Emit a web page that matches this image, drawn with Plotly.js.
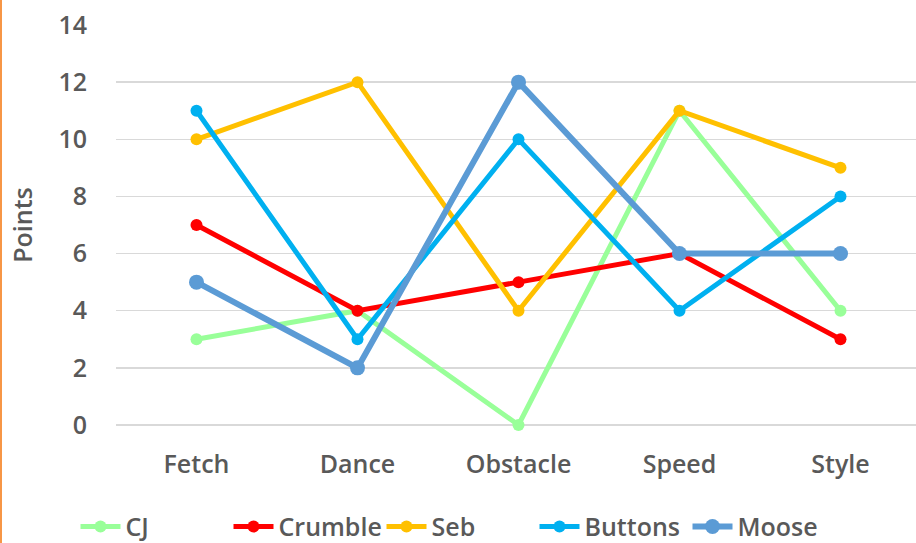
<!DOCTYPE html>
<html>
<head>
<meta charset="utf-8">
<script src="https://cdn.plot.ly/plotly-3.0.1.min.js"></script>
<style>html,body{margin:0;padding:0;background:#fff;}#chart{width:916px;height:543px;}</style>
</head>
<body>
<div id="chart"></div>
<script>
const categories = ["Fetch", "Dance", "Obstacle", "Speed", "Style"];
const seriesNames = ["CJ", "Crumble", "Seb", "Buttons", "Moose"];
const cjValues = [3, 4, 0, 11, 4];
const crumbleValues = [7, 4, 5, 6, 3];
const sebValues = [10, 12, 4, 11, 9];
const buttonsValues = [11, 3, 10, 4, 8];
const mooseValues = [5, 2, 12, 6, 6];
const yTicks = [0, 2, 4, 6, 8, 10, 12, 14];

const allValues = [cjValues, crumbleValues, sebValues, buttonsValues, mooseValues];
const colors = ["#99FF99", "#FF0000", "#FFC000", "#00B0F0", "#5B9BD5"];
const widths = [5, 5, 5, 5, 6];
const msizes = [12, 12, 12, 12, 15];

const idx = categories.map((c, i) => i);
const traces = seriesNames.map((n, k) => ({
  type: "scatter",
  mode: "lines+markers",
  name: n,
  x: idx,
  y: allValues[k],
  line: {color: colors[k], width: widths[k]},
  marker: {color: colors[k], size: msizes[k]},
  cliponaxis: false
}));

const font = "'Open Sans', 'DejaVu Sans', sans-serif";
const tf = {size: 25, color: "#595959", weight: 600, family: font};
const layout = {
  width: 916, height: 543,
  margin: {l: 116, r: 0, t: 25, b: 118, autoexpand: false},
  paper_bgcolor: "#fff", plot_bgcolor: "#fff",
  font: {family: font, color: "#595959", size: 25},
  showlegend: true,
  legend: {orientation: "h", xref: "container", yref: "container", x: 0.5, xanchor: "center",
           y: 0.03, yanchor: "middle", font: tf, itemwidth: 40,
           entrywidth: 98, entrywidthmode: "pixels"},
  xaxis: {
    range: [-0.5, 4.469], tickvals: idx, ticktext: categories,
    showgrid: false, zeroline: false, showline: false, ticks: "",
    tickfont: tf, ticklabelstandoff: 22, fixedrange: true
  },
  yaxis: {
    range: [0, 14], tickvals: yTicks, ticktext: yTicks.map(String),
    showgrid: true, gridcolor: "#D9D9D9", gridwidth: 1.5,
    zeroline: true, zerolinecolor: "#D9D9D9", zerolinewidth: 1.5, showline: false,
    tickfont: tf, ticklabelstandoff: 28,
    title: {text: "Points", font: tf, standoff: 18}
  },
  shapes: [{type: "line", xref: "paper", yref: "paper", x0: -0.14375, x1: -0.14375, y0: -0.3, y1: 1.07,
            line: {color: "#F79646", width: 2}}]
};
Plotly.newPlot("chart", traces, layout, {displayModeBar: false, staticPlot: true});
</script>
</body>
</html>
